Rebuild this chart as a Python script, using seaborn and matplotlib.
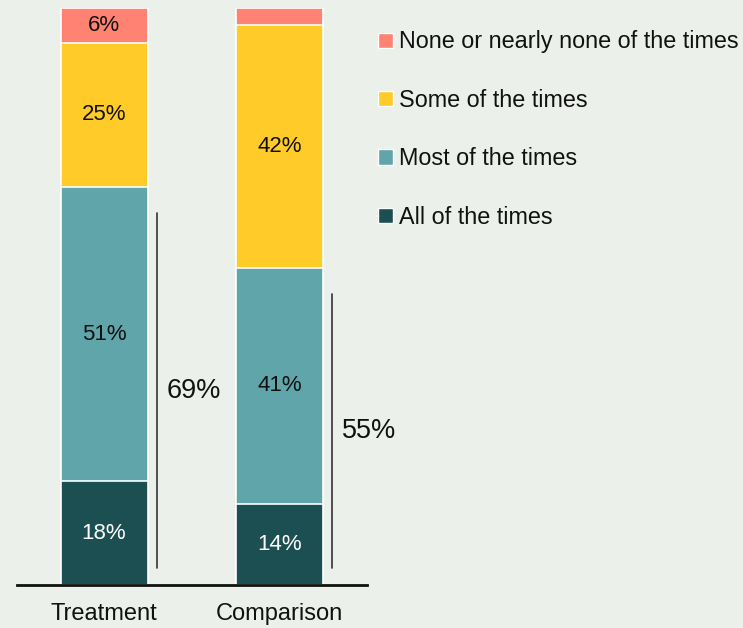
import matplotlib
matplotlib.use("Agg")
import matplotlib.pyplot as plt
from matplotlib.patches import Patch
import numpy as np
import pandas as pd
import seaborn as sns

# Survey responses, share of respondents (%)
groups = ["Treatment", "Comparison"]
all_times = [18, 14]
most_times = [51, 41]
some_times = [25, 42]
none_times = [6, 3]

segment_names = ["All of the times", "Most of the times", "Some of the times",
                 "None or nearly none of the times"]
segment_colors = ["#1C4F52", "#60A5AA", "#FFCB29", "#FF8273"]
label_colors = ["white", "#111111", "#111111", "#111111"]
show_label = [[True, True], [True, True], [True, True], [True, False]]

bg = "#EBF0EA"
sns.set_theme(style="white")
plt.rcParams["font.family"] = ["Liberation Sans", "DejaVu Sans"]

segments = [all_times, most_times, some_times, none_times]
cum = np.cumsum(np.array(segments), axis=0)

fig = plt.figure(figsize=(7.43, 6.28), dpi=100, facecolor=bg)
ax = fig.add_axes([17 / 743, 43 / 628, 350 / 743, 577 / 628])
ax.set_facecolor(bg)

# Stacked bars: draw the cumulative totals from the top segment down
bar_w = 0.496
for i in range(len(segments) - 1, -1, -1):
    df = pd.DataFrame({"group": groups, "value": cum[i]})
    sns.barplot(data=df, x="group", y="value", color=segment_colors[i],
                saturation=1, width=bar_w, edgecolor="white", linewidth=1.2,
                ax=ax, zorder=2)

# Segment value labels
for i, seg in enumerate(segments):
    for j, v in enumerate(seg):
        if not show_label[i][j]:
            continue
        mid = cum[i][j] - v / 2
        ax.text(j, mid, f"{v}%", ha="center", va="center",
                fontsize=16, color=label_colors[i], zorder=3)

# Brackets spanning the two lower segments, with their combined share
for j in range(len(groups)):
    top = all_times[j] + most_times[j]
    y0, y1 = 2.9, top - 4.5
    xb = j + 0.302
    ax.plot([xb, xb], [y0, y1], color="#333333", lw=1.2, zorder=3)
    ax.text(xb + 0.055, (y0 + y1) / 2, f"{top}%", ha="left", va="center",
            fontsize=19.5, color="#111111")

ax.set_xlim(-0.496, 1.499)
ax.set_ylim(0, 100)
ax.set_xlabel("")
ax.set_ylabel("")
ax.set_yticks([])
ax.tick_params(axis="x", length=0, pad=13, labelsize=17, labelcolor="#111111")
for s in ["top", "right", "left"]:
    ax.spines[s].set_visible(False)
ax.spines["bottom"].set_color("#111111")
ax.spines["bottom"].set_linewidth(2)
ax.spines["bottom"].set_zorder(4)

handles = [Patch(facecolor=segment_colors[i], edgecolor="white", linewidth=1)
           for i in range(len(segments) - 1, -1, -1)]
labels = [segment_names[i] for i in range(len(segments) - 1, -1, -1)]
fig.legend(handles, labels, loc="upper left",
           bbox_to_anchor=(369 / 743, 1 - 21 / 628), frameon=False,
           fontsize=16.8, handlelength=0.62, handleheight=0.62,
           handletextpad=0.28, labelspacing=1.52, borderaxespad=0,
           labelcolor="#111111")

fig.savefig("out.png", dpi=100, facecolor=bg)
